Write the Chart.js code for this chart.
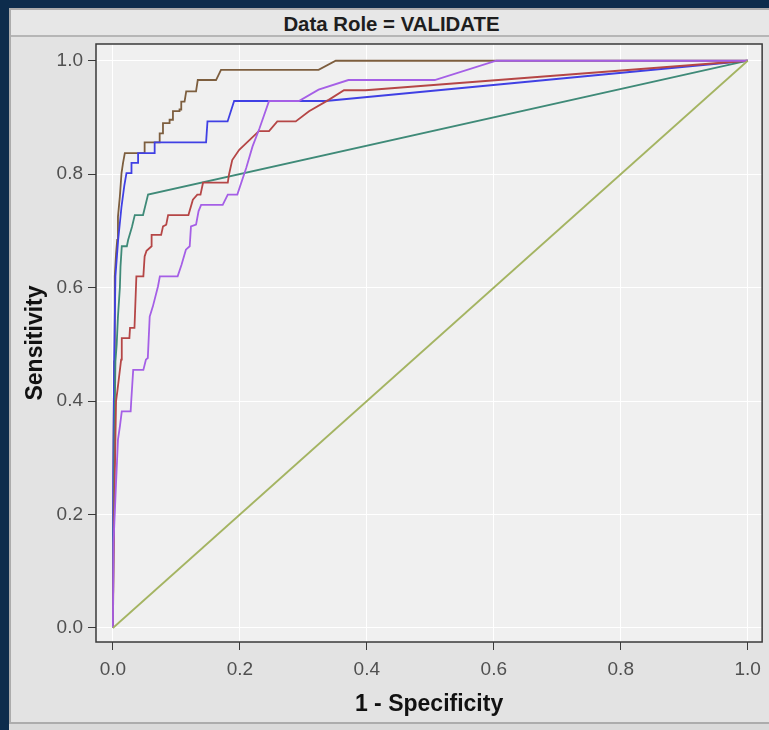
<!DOCTYPE html>
<html>
<head>
<meta charset="utf-8">
<script src="https://cdn.jsdelivr.net/npm/chart.js@4.4.1/dist/chart.umd.min.js"></script>
<style>
  html, body { margin: 0; padding: 0; }
  body { width: 769px; height: 730px; position: relative; overflow: hidden; background: #0d2c4c; font-family: 'Liberation Sans', Arial, sans-serif; }
  #outer { position: absolute; left: 9px; top: 8px; width: 770px; height: 730px; background: #dadada; }
  #panel { position: absolute; left: 9px; top: 8px; width: 770px; height: 716px; background: #e3e3e3; border: 2px solid #acacac; box-sizing: border-box; }
  #header { position: absolute; left: 11px; top: 10px; width: 761px; height: 25px; background: #e7e7e7; border-bottom: 2px solid #b6b6b6; font-weight: bold; font-size: 20.4px; color: #1e1e1e; text-align: center; line-height: 29px; white-space: nowrap; overflow: visible; }
  #c { position: absolute; left: 0; top: 0; }
</style>
</head>
<body>
<div id="outer"></div>
<div id="panel"></div>
<div id="header">Data Role = VALIDATE</div>
<canvas id="c" width="769" height="730"></canvas>
<script>
// ---- data (1 - Specificity, Sensitivity) ----
const tickValues = [0, 0.2, 0.4, 0.6, 0.8, 1.0];

const baselineX = [0, 1];
const baselineY = [0, 1];

const purpleX = [0, 0.001, 0.005, 0.008, 0.011, 0.014, 0.028, 0.029, 0.032, 0.048, 0.052, 0.055, 0.058, 0.063, 0.071, 0.074, 0.102, 0.108, 0.115, 0.121, 0.123, 0.131, 0.135, 0.139, 0.173, 0.181, 0.196, 0.210, 0.220, 0.231, 0.246, 0.293, 0.324, 0.371, 0.507, 0.604, 1.0];
const purpleY = [0, 0.15, 0.256, 0.332, 0.355, 0.382, 0.382, 0.402, 0.455, 0.455, 0.473, 0.476, 0.549, 0.567, 0.602, 0.62, 0.62, 0.64, 0.667, 0.673, 0.708, 0.711, 0.735, 0.746, 0.746, 0.764, 0.764, 0.811, 0.849, 0.881, 0.929, 0.929, 0.949, 0.966, 0.966, 1.0, 1.0];

const redX = [0, 0.002, 0.005, 0.007, 0.013, 0.014, 0.026, 0.027, 0.034, 0.037, 0.048, 0.050, 0.053, 0.061, 0.061, 0.076, 0.079, 0.084, 0.087, 0.119, 0.126, 0.133, 0.138, 0.142, 0.181, 0.183, 0.188, 0.199, 0.213, 0.230, 0.246, 0.259, 0.288, 0.309, 0.340, 0.364, 0.398, 1.0];
const redY = [0, 0.20, 0.40, 0.417, 0.473, 0.511, 0.511, 0.529, 0.529, 0.62, 0.62, 0.655, 0.665, 0.673, 0.693, 0.693, 0.708, 0.711, 0.728, 0.728, 0.755, 0.764, 0.764, 0.785, 0.785, 0.80, 0.825, 0.843, 0.858, 0.876, 0.876, 0.893, 0.893, 0.911, 0.931, 0.948, 0.948, 1.0];

const tealX = [0, 0.002, 0.004, 0.006, 0.008, 0.011, 0.012, 0.014, 0.022, 0.024, 0.030, 0.0345, 0.0475, 0.0554, 1.0];
const tealY = [0, 0.30, 0.47, 0.50, 0.549, 0.60, 0.637, 0.673, 0.673, 0.684, 0.707, 0.728, 0.728, 0.764, 1.0];

const blueX = [0, 0.0005, 0.002, 0.004, 0.0083, 0.0136, 0.018, 0.0214, 0.0293, 0.0293, 0.0397, 0.0397, 0.0658, 0.0658, 0.1468, 0.149, 0.1807, 0.191, 0.335, 1.0];
const blueY = [0, 0.27, 0.47, 0.62, 0.684, 0.743, 0.78, 0.802, 0.802, 0.820, 0.820, 0.837, 0.837, 0.856, 0.856, 0.893, 0.893, 0.929, 0.929, 1.0];

const brownX = [0, 0.001, 0.002, 0.003, 0.005, 0.0068, 0.008, 0.011, 0.0136, 0.016, 0.0188, 0.050, 0.050, 0.0737, 0.0737, 0.0789, 0.0789, 0.0893, 0.0893, 0.0946, 0.0946, 0.105, 0.105, 0.1077, 0.1077, 0.1129, 0.1155, 0.131, 0.1337, 0.1625, 0.1703, 0.324, 0.351, 1.0];
const brownY = [0, 0.33, 0.47, 0.62, 0.66, 0.684, 0.725, 0.761, 0.802, 0.820, 0.837, 0.837, 0.856, 0.856, 0.872, 0.872, 0.890, 0.890, 0.896, 0.896, 0.911, 0.911, 0.914, 0.914, 0.928, 0.928, 0.946, 0.946, 0.966, 0.966, 0.984, 0.984, 1.0, 1.0];

const xTitle = '1 - Specificity';
const yTitle = 'Sensitivity';

function pts(xs, ys) { return xs.map((x, i) => ({ x: x, y: ys[i] })); }
function ds(label, xs, ys, color) {
  return { label: label, data: pts(xs, ys), borderColor: color, backgroundColor: color,
           showLine: true, borderWidth: 1.8, pointRadius: 0, tension: 0, fill: false };
}

const frameBg = {
  id: 'frameBg',
  beforeDraw(chart) {
    const { ctx, chartArea: a } = chart;
    ctx.save();
    ctx.fillStyle = '#f0f0f0';
    ctx.fillRect(a.left, a.top, a.right - a.left, a.bottom - a.top);
    ctx.restore();
  },
  afterDraw(chart) {
    const { ctx, chartArea: a } = chart;
    ctx.save();
    ctx.strokeStyle = '#3a3a3a';
    ctx.lineWidth = 1.5;
    ctx.strokeRect(a.left, a.top, a.right - a.left, a.bottom - a.top);
    ctx.restore();
  }
};

const tickFont = { family: "'Liberation Sans', Arial, sans-serif", size: 19 };
const titleFont = { family: "'Liberation Sans', Arial, sans-serif", size: 23, weight: 'bold' };

new Chart(document.getElementById('c'), {
  type: 'scatter',
  data: {
    datasets: [
      ds('Baseline', baselineX, baselineY, '#a4b462'),
      ds('Purple', purpleX, purpleY, '#a55fe6'),
      ds('Red', redX, redY, '#b54646'),
      ds('Teal', tealX, tealY, '#3f8a78'),
      ds('Blue', blueX, blueY, '#4040e4'),
      ds('Brown', brownX, brownY, '#7d5e3e')
    ]
  },
  options: {
    responsive: false,
    animation: false,
    layout: { padding: { top: 44, right: 3.5, left: 0, bottom: 0 } },
    plugins: { legend: { display: false }, title: { display: false }, tooltip: { enabled: false } },
    scales: {
      x: {
        type: 'linear', min: -0.0266, max: 1.0227,
        afterBuildTicks(scale) { scale.ticks = tickValues.map(v => ({ value: v })); },
        afterFit(scale) { scale.height = 88; },
        grid: { color: '#ffffff', lineWidth: 1, tickColor: '#3a3a3a', tickLength: 8, drawTicks: true },
        border: { display: false },
        ticks: { color: '#505050', font: tickFont, padding: 8, maxRotation: 0, callback: v => Number(v).toFixed(1) },
        title: { display: true, text: xTitle, color: '#111111', font: titleFont, padding: { top: 0, bottom: 12 } }
      },
      y: {
        type: 'linear', min: -0.0247, max: 1.0295,
        afterBuildTicks(scale) { scale.ticks = tickValues.map(v => ({ value: v })); },
        afterFit(scale) { scale.width = 96; },
        grid: { color: '#ffffff', lineWidth: 1, tickColor: '#3a3a3a', tickLength: 8, drawTicks: true },
        border: { display: false },
        ticks: { color: '#505050', font: tickFont, padding: 5, callback: v => Number(v).toFixed(1) },
        title: { display: true, text: yTitle, color: '#111111', font: titleFont, padding: { top: 22, bottom: 0 } }
      }
    }
  },
  plugins: [frameBg]
});
</script>
</body>
</html>
